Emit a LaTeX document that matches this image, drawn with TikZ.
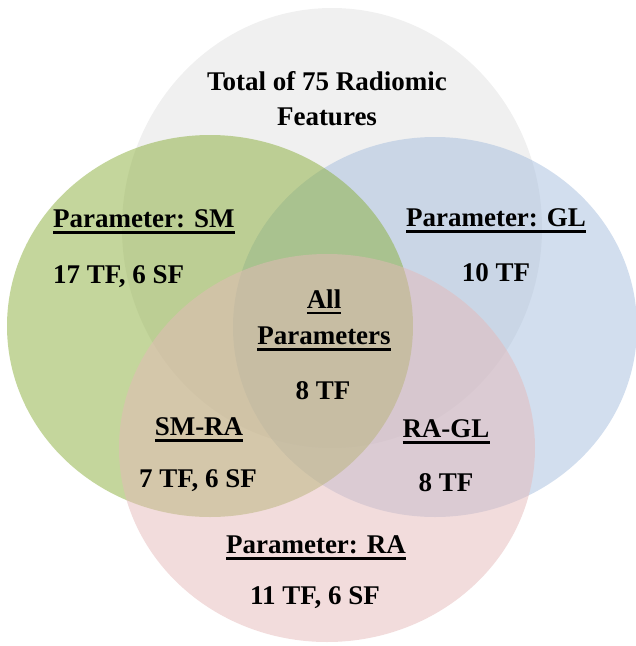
\documentclass[tikz,border=0pt]{standalone}
\usepackage{fontspec}
\setmainfont{Liberation Serif}
\newcommand{\myul}[1]{\setbox0\hbox{#1}\hbox{\rlap{\copy0}\rule[-6pt]{\wd0}{2.6pt}}}
\definecolor{cgray}{RGB}{225,225,225}
\definecolor{cgreen}{RGB}{137,173,57}
\definecolor{cblue}{RGB}{165,189,221}
\definecolor{cred}{RGB}{229,185,185}
\tikzset{
  venn/.style={fill opacity=0.5, draw=none},
  lbl/.style={font=\fontsize{27}{32}\selectfont\bfseries, inner sep=0pt, text=black}
}
\begin{document}
\begin{tikzpicture}[x=1pt,y=-1pt]
\useasboundingbox (0,0) rectangle (636,646);
\begin{scope}
\clip (0,0) rectangle (636,646);
\fill[venn, cgray] (332,228) ellipse [x radius=210, y radius=220];
\fill[venn, cblue] (435,327) ellipse [x radius=202, y radius=190];
\fill[venn, cgreen] (210,326) ellipse [x radius=203, y radius=191];
\fill[venn, cred] (327,448) ellipse [x radius=208, y radius=194];
\end{scope}
\node[lbl] (t1) at (327,81) {Total of 75 Radiomic};
\node[lbl] (t2) at (327,117) {Features};
\node[lbl, anchor=west] (sm) at (53,222) {\myul{Parameter: SM}};
\node[lbl, anchor=west] (smv) at (53,277) {17 TF, 6 SF};
\node[lbl] (gl) at (496,221) {\myul{Parameter: GL}};
\node[lbl] (glv) at (496,273) {10 TF};
\node[lbl] (all1) at (324,302) {\myul{All}};
\node[lbl] (all2) at (324,339) {\myul{Parameters}};
\node[lbl] (allv) at (323,391) {8 TF};
\node[lbl] (smra) at (199,430) {\myul{SM-RA}};
\node[lbl] (smrav) at (198,481) {7 TF, 6 SF};
\node[lbl] (ragl) at (446,432) {\myul{RA-GL}};
\node[lbl] (raglv) at (446,483) {8 TF};
\node[lbl] (ra) at (316,548) {\myul{Parameter: RA}};
\node[lbl] (rav) at (315,598) {11 TF, 6 SF};
\end{tikzpicture}
\end{document}
